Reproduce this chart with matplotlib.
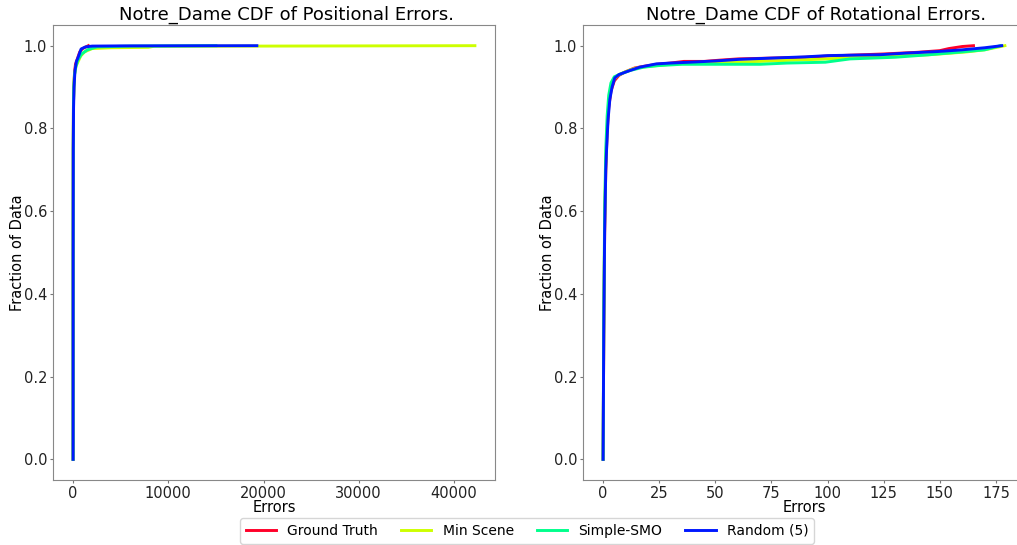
import numpy as np
import matplotlib
matplotlib.use('Agg')
from matplotlib import pyplot as plt

# labels / colours
methods = ["Ground Truth", "Min Scene", "Simple-SMO", "Random (5)"]
colors = plt.cm.gist_rainbow(np.linspace(0, 0.75, 4))

# positional error CDFs (error, fraction)
gt_pos_x = [0, 5, 15, 40, 80, 150, 250, 400, 700, 1000, 1600]
gt_pos_y = [0, 0.5, 0.75, 0.86, 0.9, 0.935, 0.955, 0.965, 0.985, 0.993, 1.0]
min_pos_x = [0, 5, 15, 40, 80, 150, 300, 500, 800, 1200, 2000, 4000, 7900, 8500, 42200]
min_pos_y = [0, 0.5, 0.75, 0.86, 0.9, 0.93, 0.95, 0.96, 0.975, 0.985, 0.993, 0.995, 0.996, 0.9985, 1.0]
smo_pos_x = [0, 5, 15, 40, 80, 150, 300, 500, 900, 1500, 2500, 6000, 15000]
smo_pos_y = [0, 0.5, 0.75, 0.86, 0.9, 0.93, 0.95, 0.965, 0.98, 0.99, 0.997, 0.999, 1.0]
rnd_pos_x = [0, 5, 20, 50, 100, 200, 350, 500, 840, 1300, 2000, 5000, 19300]
rnd_pos_y = [0, 0.5, 0.75, 0.85, 0.9, 0.94, 0.962, 0.97, 0.992, 0.997, 0.999, 0.9995, 1.0]

# rotational error CDFs (degrees, fraction)
gt_rot_x = [0, 0.3, 0.7, 1.2, 1.8, 2.5, 3.5, 5, 7, 10, 14, 18, 24, 30, 36, 45, 52, 60, 75, 90,
            100, 110, 125, 140, 150, 154, 160, 165]
gt_rot_y = [0, 0.3, 0.55, 0.7, 0.79, 0.85, 0.89, 0.915, 0.928, 0.937, 0.946, 0.95, 0.955, 0.958,
            0.962, 0.962, 0.965, 0.968, 0.97, 0.972, 0.975, 0.977, 0.98, 0.984, 0.988, 0.993, 0.998, 1.0]
min_rot_x = [0, 0.3, 0.7, 1.2, 1.8, 2.5, 3.5, 5, 7, 10, 14, 20, 30, 40, 55, 70, 85, 100, 115,
             130, 145, 155, 162, 170, 179]
min_rot_y = [0, 0.3, 0.58, 0.72, 0.8, 0.86, 0.9, 0.92, 0.93, 0.937, 0.945, 0.95, 0.955, 0.958,
             0.96, 0.962, 0.965, 0.968, 0.972, 0.975, 0.978, 0.982, 0.985, 0.99, 1.0]
smo_rot_x = [0, 0.3, 0.7, 1.2, 1.8, 2.5, 3.5, 5, 8, 12, 18, 25, 35, 52, 70, 82, 99, 110, 130,
             145, 160, 170, 177]
smo_rot_y = [0, 0.35, 0.6, 0.75, 0.83, 0.88, 0.91, 0.925, 0.932, 0.94, 0.948, 0.952, 0.955,
             0.955, 0.955, 0.958, 0.96, 0.968, 0.972, 0.978, 0.985, 0.99, 1.0]
rnd_rot_x = [0, 0.3, 0.7, 1.2, 1.6, 2.2, 3, 4, 5.2, 7, 8.9, 12, 16.3, 20, 23.7, 30, 38.5, 50,
             60.7, 75, 90, 100, 110, 123, 135, 149.5, 160, 170, 177.6]
rnd_rot_y = [0, 0.3, 0.55, 0.7, 0.755, 0.82, 0.87, 0.9, 0.922, 0.93, 0.934, 0.94, 0.948, 0.952,
             0.956, 0.958, 0.96, 0.963, 0.967, 0.97, 0.973, 0.976, 0.977, 0.978, 0.982, 0.986,
             0.99, 0.995, 1.0]

pos_curves = [(gt_pos_x, gt_pos_y), (min_pos_x, min_pos_y), (smo_pos_x, smo_pos_y), (rnd_pos_x, rnd_pos_y)]
rot_curves = [(gt_rot_x, gt_rot_y), (min_rot_x, min_rot_y), (smo_rot_x, smo_rot_y), (rnd_rot_x, rnd_rot_y)]

fig = plt.figure(figsize=(10.17, 5.45), dpi=100)
axL = fig.add_axes([53 / 1017, 1 - 480 / 545, 442 / 1017, 455 / 545])
axR = fig.add_axes([583 / 1017, 1 - 480 / 545, 442 / 1017, 455 / 545])

for ax, curves, title in [(axL, pos_curves, "Notre_Dame CDF of Positional Errors."),
                          (axR, rot_curves, "Notre_Dame CDF of Rotational Errors.")]:
    for (xs, ys), c, name in zip(curves, colors, methods):
        ax.plot(xs, ys, color=c, lw=2.1, label=name)
    ax.set_title(title, fontsize=13, pad=4, x=0.528)
    ax.set_xlabel("Errors", fontsize=10.5, labelpad=-1)
    ax.set_ylabel("Fraction of Data", fontsize=10.5, labelpad=-1)
    ax.tick_params(labelsize=10.5, colors='#777777', labelcolor='#222222', length=2.5, pad=1.8)
    for s in ax.spines.values():
        s.set_color('#888888')

axL.set_xticks([0, 10000, 20000, 30000, 40000])
axR.set_xticks([0, 25, 50, 75, 100, 125, 150, 175])

fig.legend(*axL.get_legend_handles_labels(), loc='lower center', ncol=4, fontsize=10,
           bbox_to_anchor=(527 / 1017, -0.01), columnspacing=1.65, handlelength=2.2)

fig.savefig("out.png", dpi=100)
